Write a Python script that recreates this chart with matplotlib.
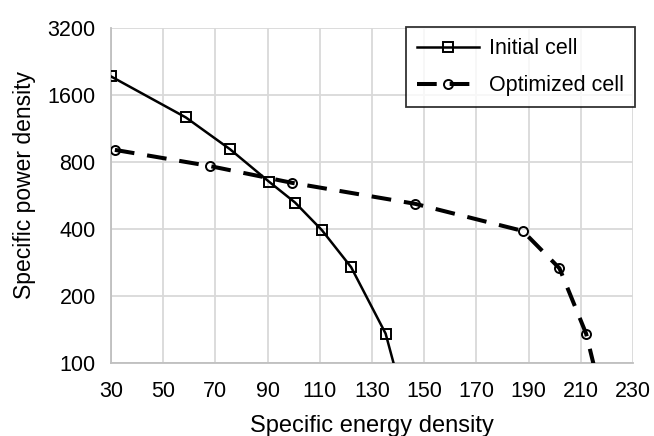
import matplotlib
matplotlib.use("Agg")
import matplotlib.pyplot as plt
from matplotlib.ticker import FixedLocator, FixedFormatter, NullLocator

plt.rcParams['font.family'] = ['Liberation Sans', 'DejaVu Sans']

initial_x = [30, 58.7, 75.6, 90.5, 100.5, 110.8, 122.0, 135.2, 140.5]
initial_y = [1940, 1269, 914, 654, 527, 396, 270, 136, 80]
optimized_x = [31.5, 67.9, 99.3, 146.5, 187.7, 201.8, 212.0, 216.8]
optimized_y = [908, 768, 646, 520, 393, 267, 136, 80]
x_ticks = [30, 50, 70, 90, 110, 130, 150, 170, 190, 210, 230]
y_ticks = [100, 200, 400, 800, 1600, 3200]
y_tick_labels = ["100", "200", "400", "800", "1600", "3200"]

fig = plt.figure(figsize=(6.54, 4.36), dpi=100)
ax = fig.add_axes([0.1697, 0.1667, 0.7983, 0.7691])

ax.plot(initial_x, initial_y, color='black', lw=1.8, marker='s', markersize=6.5,
        markerfacecolor='none', markeredgecolor='black', markeredgewidth=1.4,
        label='Initial cell', zorder=3)
ax.plot(optimized_x, optimized_y, color='black', lw=2.9, marker='o', markersize=6.5,
        markerfacecolor='none', markeredgecolor='black', markeredgewidth=1.4,
        dashes=(4.9, 3.2), dash_capstyle='butt', label='Optimized cell', zorder=3)

ax.set_yscale('log', base=2)
ax.set_xlim(30, 230)
ax.set_ylim(100, 3200)
ax.xaxis.set_major_locator(FixedLocator(x_ticks))
ax.yaxis.set_major_locator(FixedLocator(y_ticks))
ax.yaxis.set_major_formatter(FixedFormatter(y_tick_labels))
ax.yaxis.set_minor_locator(NullLocator())
ax.grid(True, color='#d9d9d9', lw=1.3, zorder=0)
ax.set_axisbelow(True)
for s in ['top', 'right']:
    ax.spines[s].set_visible(False)
for s in ['left', 'bottom']:
    ax.spines[s].set_color('#bfbfbf')
    ax.spines[s].set_linewidth(1.3)
ax.tick_params(length=0, labelsize=15.5)
ax.tick_params(axis='x', pad=13)
ax.tick_params(axis='y', pad=11)

ax.set_xlabel('Specific energy density', fontsize=17, labelpad=9)
ax.set_ylabel('Specific power density', fontsize=16.5)
ax.yaxis.set_label_coords(-0.144, 0.532)

leg = ax.legend(loc='upper right', fontsize=15.5, frameon=True, fancybox=False,
                edgecolor='black', handlelength=2.9, handletextpad=0.45,
                borderpad=0.5, labelspacing=0.75, borderaxespad=0,
                bbox_to_anchor=(1.003, 1.002))
leg.get_frame().set_linewidth(1.3)

fig.savefig('out.png', dpi=100)
